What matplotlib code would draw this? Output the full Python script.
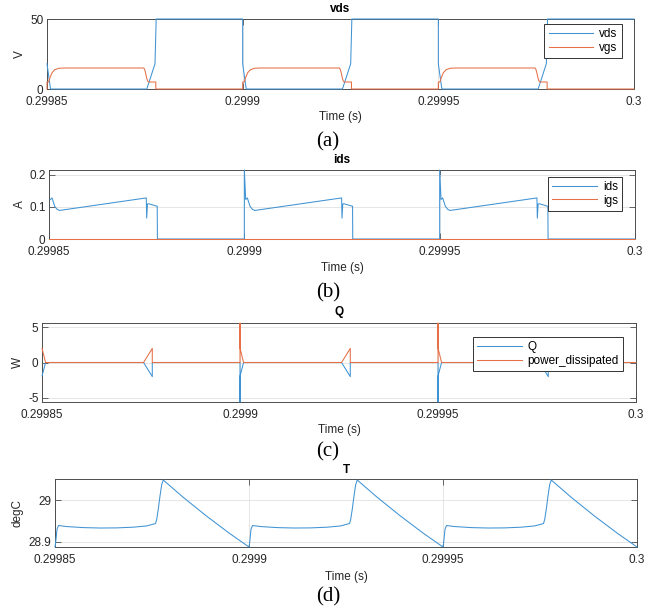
import numpy as np
import matplotlib
matplotlib.use("Agg")
import matplotlib.pyplot as plt

plt.rcParams['font.family'] = ['Liberation Sans', 'DejaVu Sans']
plt.rcParams['axes.unicode_minus'] = False

# ---- data (time offsets in microseconds inside one 50 us switching period) ----
period_starts = [0.29985, 0.2999, 0.29995]

vds_off = [0, 0.9, 25.5, 27.6, 27.9, 50]
vds_val = [18, 0, 0, 18, 50, 50]

vgs_off = [0, 0, 0.4, 0.85, 1.3, 2.0, 3.0, 4.3, 24.7, 24.9, 25.1, 25.3, 25.5, 25.7, 25.95, 27.8, 27.8, 50]
vgs_val = [0, 5, 5, 8.8, 11.7, 13.8, 14.8, 15, 15, 14.3, 12.5, 10, 7.5, 5.8, 5, 5, 0, 0]

ids_off = [0, 0, 0.35, 0.77, 1.45, 2.1, 2.7, 24.9, 25.0, 25.2, 25.45, 27.7, 27.75, 50]
ids_val = [0, 0.215, 0.123, 0.128, 0.102, 0.092, 0.089, 0.128, 0.065, 0.109, 0.11, 0.102, 0, 0]

igs_off = [0, 50]
igs_val = [0, 0]

q_off = [0, 0, 0.02, 0.9, 25.65, 27.85, 27.85, 50]
q_val = [0, -5.6, -1.9, 0, 0, -2.0, 0, 0]
p_val = [0, 5.6, 2.0, 0, 0, 2.0, 0, 0]

T_off = [0, 0.17, 0.52, 0.9, 3.0, 7.3, 11.6, 15.9, 20.2, 23.6, 25.9, 26.2, 26.6, 27.05, 27.5, 27.9, 33, 39, 45, 50]
T_val = [28.8875, 28.898, 28.930, 28.939, 28.9365, 28.934, 28.933, 28.9333, 28.935, 28.938, 28.9437,
         28.953, 28.977, 29.009, 29.037, 29.048, 29.007, 28.962, 28.920, 28.8875]

xticks = [0.29985, 0.2999, 0.29995, 0.3]
xticklabels = ['0.29985', '0.2999', '0.29995', '0.3']

blue = '#3f93d3'
orange = '#e66f45'


def tile(off_us, vals, skip_first=0):
    # repeat one period's breakpoints; the simulation trace starts mid-way so
    # the turn-on spike at the very first period start is not in the record
    t = np.concatenate([t0 + np.array(off_us) * 1e-6 for t0 in period_starts])
    v = np.tile(vals, len(period_starts))
    return t[skip_first:], v[skip_first:]


W, H = 659, 611
fig = plt.figure(figsize=(W / 100, H / 100), dpi=100)


def add_axes(l, t, r, b):
    return fig.add_axes([l / W, 1 - b / H, (r - l) / W, (b - t) / H])


def ftext(x, y, s, **kw):
    fig.text(x / W, 1 - y / H, s, ha='center', va='center', **kw)


def style(ax, ylim, yticks, yticklabels):
    ax.set_xlim(0.29985, 0.3)
    ax.set_ylim(*ylim)
    ax.set_xticks(xticks)
    ax.set_xticklabels(xticklabels)
    ax.set_yticks(yticks)
    ax.set_yticklabels(yticklabels)
    ax.tick_params(direction='in', length=4, width=0.6, colors='0.3', labelcolor='0.15',
                   labelsize=8.5, top=True, right=True, pad=2.5)
    ax.tick_params(axis='x', pad=5)
    for sp in ax.spines.values():
        sp.set_color('0.3')
        sp.set_linewidth(0.7)
    ax.grid(True, color='#e2e2e2', linewidth=0.6)
    ax.set_axisbelow(True)


def legend(ax, anchor):
    leg = ax.legend(loc='upper right', bbox_to_anchor=anchor, borderaxespad=0,
                    fontsize=8.5, handlelength=3.8, handletextpad=0.5,
                    labelspacing=0.15, borderpad=0.35, fancybox=False, framealpha=1)
    leg.get_frame().set_edgecolor('0.2')
    leg.get_frame().set_linewidth(0.7)
    leg.set_zorder(5)


boxes = [(47, 19, 634, 89), (49, 170, 635, 239), (42, 323, 636, 402), (55, 479, 637, 547)]
titles = ['vds', 'ids', 'Q', 'T']
title_y = [8.5, 160, 312, 470]
time_y = [117, 268, 430, 577]
cap_y = [141.5, 293, 452, 597]
caps = ['(a)', '(b)', '(c)', '(d)']
ylab_x = [20, 20, 18, 18]
ylabs = ['V', 'A', 'W', 'degC']

axes = [add_axes(*b) for b in boxes]
lkw = dict(linewidth=0.75, clip_on=False, zorder=3)

# (a)
ax = axes[0]
t, v = tile(vds_off, vds_val)
ax.plot(t, v, color=blue, label='vds', **lkw)
t, v = tile(vgs_off, vgs_val)
ax.plot(t, v, color=orange, label='vgs', **lkw)
style(ax, (0, 50), [0, 50], ['0', '50'])
legend(ax, (0.979, 0.924))

# (b)
ax = axes[1]
t, v = tile(ids_off, ids_val, skip_first=2)
ax.plot(t, v, color=blue, label='ids', **lkw)
t, v = tile(igs_off, igs_val)
ax.plot(t, v, color=orange, label='igs', **lkw)
style(ax, (0, 0.215), [0, 0.1, 0.2], ['0', '0.1', '0.2'])
legend(ax, (0.978, 0.903))

# (c)
ax = axes[2]
t, v = tile(q_off, q_val, skip_first=2)
ax.plot(t, v, color=blue, label='Q', **lkw)
t, v = tile(q_off, p_val, skip_first=2)
ax.plot(t, v, color=orange, label='power_dissipated', **lkw)
style(ax, (-5.6, 5.6), [-5, 0, 5], ['-5', '0', '5'])
legend(ax, (0.978, 0.819))

# (d)
ax = axes[3]
t, v = tile(T_off, T_val)
ax.plot(t, v, color=blue, **lkw)
style(ax, (28.8875, 29.0505), [28.9, 29], ['28.9', '29'])

for i, (l, t_, r, b) in enumerate(boxes):
    cx = (l + r) / 2
    ftext(cx, title_y[i], titles[i], fontsize=8.5, fontweight='bold', color='0')
    ftext(cx, time_y[i], 'Time (s)', fontsize=8.5, color='0.15')
    ftext(328, cap_y[i], caps[i], fontsize=15, family='Liberation Serif', color='0')
    ftext(ylab_x[i], (t_ + b) / 2, ylabs[i], fontsize=8.5, color='0.15', rotation=90)

fig.savefig('out.png', dpi=100)
